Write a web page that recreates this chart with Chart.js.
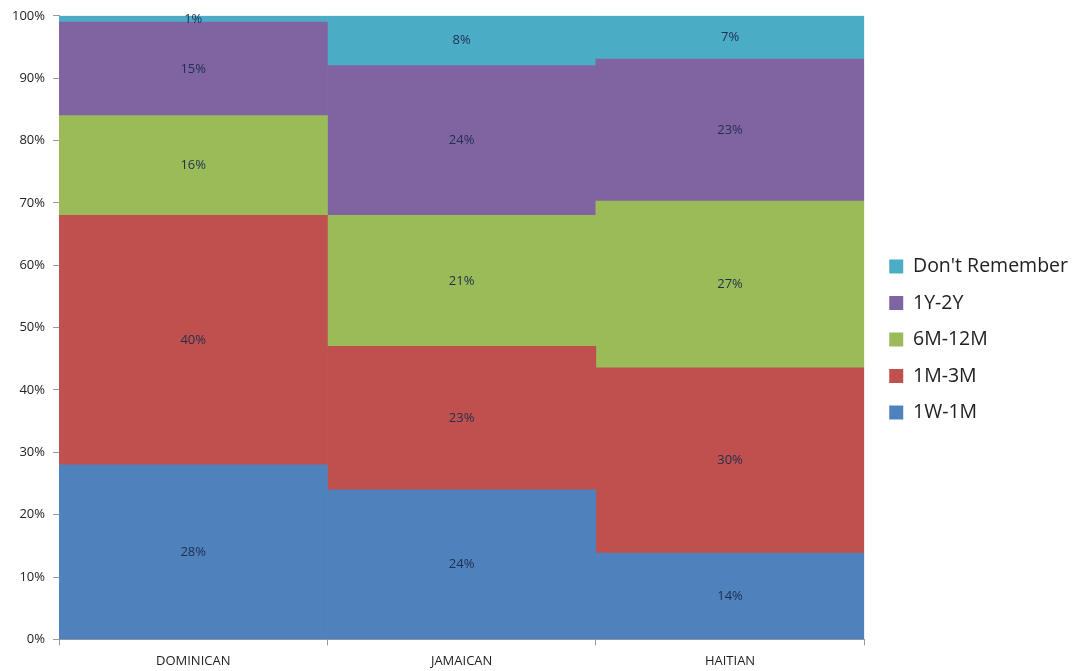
<!DOCTYPE html>
<html>
<head>
<meta charset="utf-8">
<script src="https://cdn.jsdelivr.net/npm/chart.js@4/dist/chart.umd.min.js"></script>
<style>
  html, body { margin: 0; padding: 0; background: #ffffff; }
  #wrap { width: 1073px; height: 671px; }
</style>
</head>
<body>
<div id="wrap"><canvas id="chart" width="1073" height="671"></canvas></div>
<script>
// Groups along the x axis
const categories = ['DOMINICAN', 'JAMAICAN', 'HAITIAN'];

// Share of respondents per duration bucket (percent, as labelled)
const w1m1 = [28, 24, 14];      // 1W-1M
const m1m3 = [40, 23, 30];      // 1M-3M
const m6m12 = [16, 21, 27];     // 6M-12M
const y1y2 = [15, 24, 23];      // 1Y-2Y
const dontRemember = [1, 8, 7]; // Don't Remember

const yTicks = [0, 10, 20, 30, 40, 50, 60, 70, 80, 90, 100];

const seriesList = [
  { label: '1W-1M', data: w1m1, color: '#4F81BD' },
  { label: '1M-3M', data: m1m3, color: '#C0504D' },
  { label: '6M-12M', data: m6m12, color: '#9BBB59' },
  { label: '1Y-2Y', data: y1y2, color: '#8064A2' },
  { label: "Don't Remember", data: dontRemember, color: '#4BACC6' }
];

// 100% stacked: scale each column so its segments sum to 100
const totals = categories.map((_, i) => seriesList.reduce((s, d) => s + d.data[i], 0));

const datasets = seriesList.map(s => ({
  label: s.label,
  data: s.data.map((v, i) => v / totals[i] * 100),
  rawValues: s.data,
  backgroundColor: s.color,
  borderWidth: 0,
  barPercentage: 1.0,
  categoryPercentage: 1.0
}));

const FONT = '"Open Sans", "DejaVu Sans", sans-serif';

// Writes the stated percentage in the middle of each segment
const segmentLabels = {
  id: 'segmentLabels',
  afterDatasetsDraw(chart) {
    const ctx = chart.ctx;
    ctx.save();
    ctx.font = '13px ' + FONT;
    ctx.fillStyle = '#1F2F4F';
    ctx.textAlign = 'center';
    ctx.textBaseline = 'middle';
    chart.data.datasets.forEach((ds, di) => {
      const meta = chart.getDatasetMeta(di);
      meta.data.forEach((bar, i) => {
        const p = bar.getProps(['x', 'y', 'base'], true);
        ctx.fillText(ds.rawValues[i] + '%', p.x, (p.y + p.base) / 2);
      });
    });
    ctx.restore();
  }
};

// Leaves a little extra room between the plot and the legend
const legendGap = {
  id: 'legendGap',
  afterLayout(chart) {
    const lg = chart.legend;
    if (lg) {
      lg.left += 8; lg.right += 8;
      lg.top -= 6; lg.bottom -= 6;
    }
  }
};

new Chart(document.getElementById('chart'), {
  type: 'bar',
  data: { labels: categories, datasets },
  plugins: [segmentLabels, legendGap],
  options: {
    responsive: false,
    animation: false,
    layout: { padding: { top: 14, left: 4, right: 3, bottom: -6 } },
    plugins: {
      tooltip: { enabled: false },
      legend: {
        position: 'right',
        reverse: true,
        labels: {
          boxWidth: 14,
          boxHeight: 14,
          padding: 17,
          color: '#222222',
          font: { size: 19.5, family: FONT }
        }
      }
    },
    scales: {
      x: {
        stacked: true,
        border: { display: true, color: '#9a9a9a', width: 1 },
        grid: { display: true, drawOnChartArea: false, offset: true, tickLength: 6, color: '#9a9a9a' },
        ticks: {
          color: '#222222',
          padding: 8,
          font: { size: 13, family: FONT }
        }
      },
      y: {
        stacked: true,
        min: 0,
        max: 100,
        afterBuildTicks(axis) { axis.ticks = yTicks.map(v => ({ value: v })); },
        border: { display: true, color: '#9a9a9a', width: 1 },
        grid: { display: true, drawOnChartArea: false, tickLength: 6, color: '#9a9a9a' },
        ticks: {
          color: '#222222',
          padding: 8,
          font: { size: 13, family: FONT },
          callback: v => v + '%'
        }
      }
    }
  }
});
</script>
</body>
</html>
